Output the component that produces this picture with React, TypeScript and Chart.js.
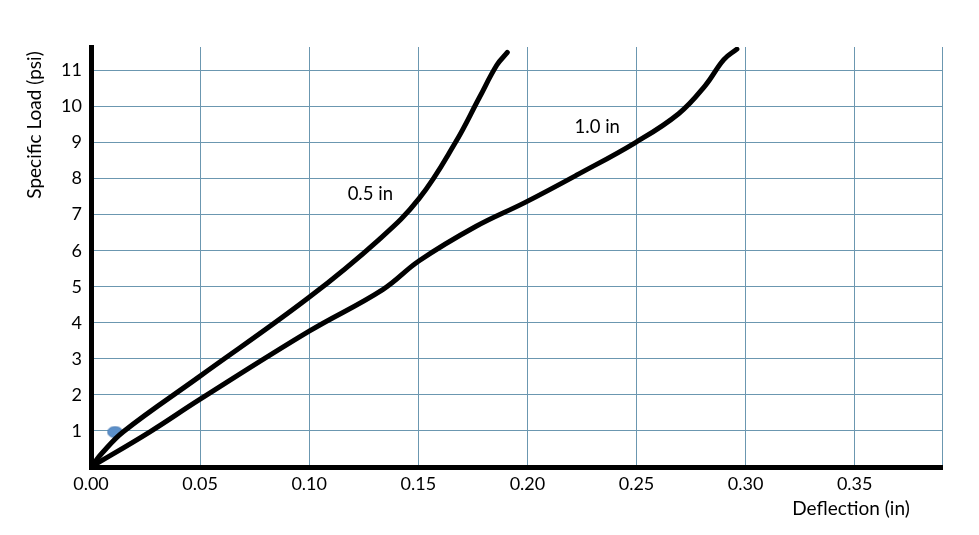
import React, { useEffect, useRef } from "react";
import { Chart, registerables } from "chart.js";

Chart.register(...registerables);

// Curve "0.5 in"
const halfInX = [0, 0.005, 0.0148, 0.0495, 0.0998, 0.132, 0.1504, 0.167, 0.178, 0.186, 0.1908];
const halfInY = [0, 0.38, 0.98, 2.5, 4.7, 6.31, 7.45, 9.0, 10.25, 11.15, 11.5];

// Curve "1.0 in"
const oneInX = [0, 0.027, 0.0495, 0.0998, 0.1337, 0.1504, 0.1763, 0.199, 0.2236, 0.2495, 0.2693, 0.2815, 0.29, 0.296];
const oneInY = [0, 0.975, 1.86, 3.76, 4.92, 5.72, 6.67, 7.34, 8.13, 9.0, 9.8, 10.58, 11.3, 11.59];

// Single marker
const markerX = [0.011];
const markerY = [0.97];

// Axis setup
const xMin = 0;
const xMax = 0.39;
const xStep = 0.05;
const yMin = 0;
const yMax = 11.65;
const yStep = 1;

// Annotations
const curveLabels = ["0.5 in", "1.0 in"];
const curveLabelX = [0.128, 0.232];
const curveLabelY = [7.57, 9.43];

const xTitle = "Deflection (in)";
const yTitle = "Specific Load (psi)";

const FONT = "Lato, 'Open Sans', sans-serif";
const GRID = "#6b97b0";

const zip = (xs: number[], ys: number[]) => xs.map((x, i) => ({ x, y: ys[i] }));

const makeEllipse = () => {
  const c = document.createElement("canvas");
  c.width = 17;
  c.height = 13;
  const g = c.getContext("2d");
  if (g) {
    g.beginPath();
    g.ellipse(8.5, 6.5, 7.5, 5.5, 0, 0, Math.PI * 2);
    g.fillStyle = "#5b8fc9";
    g.fill();
    g.lineWidth = 1;
    g.strokeStyle = "#4a7bb3";
    g.stroke();
  }
  return c;
};

const textPlugin = {
  id: "customText",
  afterDraw(chart: any) {
    const { ctx, chartArea, scales } = chart;
    ctx.save();
    ctx.fillStyle = "#000";
    ctx.textAlign = "center";
    ctx.textBaseline = "middle";
    ctx.font = `18.5px ${FONT}`;
    curveLabels.forEach((t, i) => {
      ctx.fillText(t, scales.x.getPixelForValue(curveLabelX[i]), scales.y.getPixelForValue(curveLabelY[i]));
    });
    ctx.font = `19px ${FONT}`;
    ctx.fillText(xTitle, chartArea.right - 91, chartArea.bottom + 42);
    ctx.translate(chartArea.left - 56, chartArea.top + 78);
    ctx.rotate(-Math.PI / 2);
    ctx.fillText(yTitle, 0, 0);
    ctx.restore();
  },
};

export default function App() {
  const ref = useRef<HTMLCanvasElement | null>(null);
  useEffect(() => {
    if (!ref.current) return;
    const ellipse = makeEllipse();
    const lineStyle = {
      showLine: true,
      borderColor: "#000",
      borderWidth: 5,
      borderCapStyle: "round",
      borderJoinStyle: "round",
      pointRadius: 0,
      tension: 0.4,
    };
    const chart = new Chart(ref.current, {
      type: "scatter",
      data: {
        datasets: [
          { data: zip(halfInX, halfInY), ...lineStyle } as any,
          { data: zip(oneInX, oneInY), ...lineStyle } as any,
          {
            data: zip(markerX, markerY),
            showLine: false,
            pointStyle: ellipse,
            pointRadius: 7,
          } as any,
        ],
      },
      options: {
        animation: false,
        responsive: false,
        layout: { padding: { left: 0, right: 29, top: 39, bottom: 0 } },
        plugins: { legend: { display: false }, tooltip: { enabled: false } },
        scales: {
          x: {
            type: "linear",
            min: xMin,
            max: xMax,
            afterFit: (s: any) => {
              s.height = 60;
            },
            ticks: {
              stepSize: xStep,
              color: "#000",
              font: { family: FONT, size: 18 },
              padding: 6,
              maxRotation: 0,
              callback: (v: any) => {
                const n = Number(v);
                return Math.abs(n / xStep - Math.round(n / xStep)) < 1e-6 ? n.toFixed(2) : "";
              },
            },
            grid: { color: GRID, lineWidth: 1, drawTicks: false },
            border: { color: "#000", width: 5 },
          },
          y: {
            type: "linear",
            min: yMin,
            max: yMax,
            afterFit: (s: any) => {
              s.width = 83;
            },
            ticks: {
              stepSize: yStep,
              color: "#000",
              font: { family: FONT, size: 18 },
              padding: 9,
              callback: (v: any) => {
                const n = Number(v);
                return n > 0 && Number.isInteger(n) ? String(n) : "";
              },
            },
            grid: {
              color: (c: any) => {
                const v = c.tick ? c.tick.value : 0;
                return Number.isInteger(v) ? GRID : "rgba(0,0,0,0)";
              },
              lineWidth: 1,
              drawTicks: false,
            },
            border: { color: "#000", width: 5 },
          },
        },
      },
      plugins: [textPlugin],
    });
    return () => chart.destroy();
  }, []);
  return (
    <div style={{ width: 963, height: 519, background: "#fff" }}>
      <canvas ref={ref} width={963} height={519} style={{ display: "block" }} />
    </div>
  );
}
